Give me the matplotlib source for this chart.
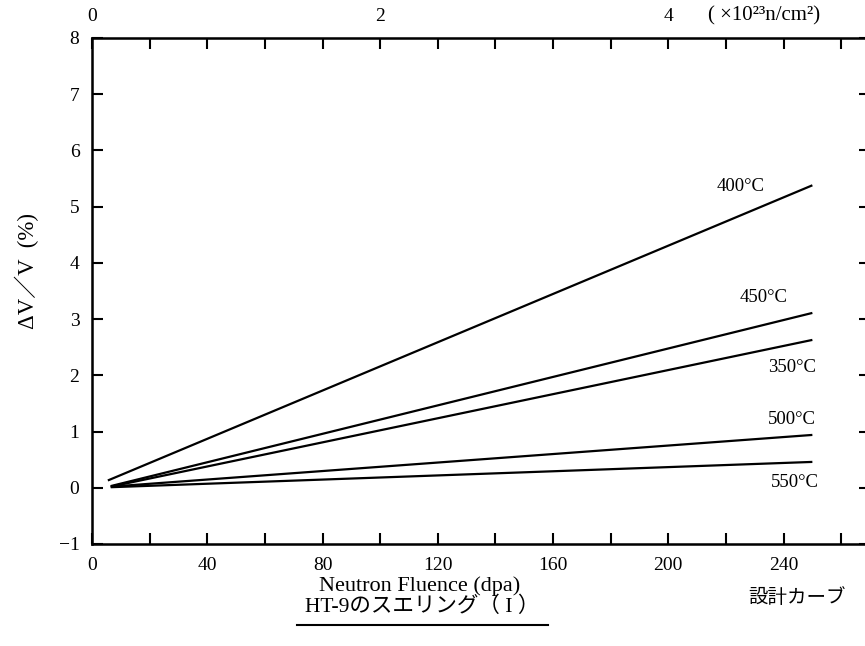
import matplotlib
matplotlib.use("Agg")
import matplotlib.pyplot as plt
from matplotlib.lines import Line2D

plt.rcParams['font.family'] = ['Liberation Serif', 'Noto Sans CJK JP', 'DejaVu Sans']

# swelling design curves
temps = ['400°C', '450°C', '350°C', '500°C', '550°C']
x_start = [5.5, 6.5, 6.5, 6.5, 6.5]
x_end = [250, 250, 250, 250, 250]
y_start = [0.13, 0.03, 0.02, 0.02, 0.01]
y_end = [5.38, 3.11, 2.63, 0.94, 0.46]
# label anchors (dpa, %)
lab_x = [225, 233, 243, 243, 244]
lab_y = [5.36, 3.38, 2.14, 1.21, 0.09]

bottom_ticks = [0, 40, 80, 120, 160, 200, 240]
top_ticks = [0, 100, 200]
top_labels = ['0', '2', '4']

fig = plt.figure(figsize=(8.65, 6.46), dpi=100)
ax = fig.add_axes([92/865, 1-544/646, 778/865, 506/646])

for i in range(len(temps)):
    ax.plot([x_start[i], x_end[i]], [y_start[i], y_end[i]], color='k', lw=1.6,
            solid_capstyle='butt')
    ax.text(lab_x[i], lab_y[i], temps[i], fontsize=13.5, ha='center', va='center')

ax.set_xlim(0, 270)
ax.set_ylim(-1, 8)
ax.set_xticks(bottom_ticks)
ax.set_xticks(range(0, 271, 20), minor=True)
ax.set_yticks(range(-1, 9))
ax.set_yticklabels(['−1'] + [str(v) for v in range(0, 9)])
ax.tick_params(which='both', direction='in', length=8, width=1.5, labelsize=14,
               pad=9, right=True)
for s in ax.spines.values():
    s.set_linewidth(1.8)

ax2 = ax.twiny()
ax2.set_xlim(ax.get_xlim())
ax2.set_xticks(top_ticks)
ax2.set_xticklabels(top_labels)
ax2.set_xticks(range(0, 271, 20), minor=True)
ax2.tick_params(which='both', direction='in', length=8, width=1.5, labelsize=14, pad=9)
fig.text(764/865, 1-16/646, '( ×10²³n/cm²)', fontsize=15, ha='center', va='center')

# axis titles placed by hand to follow the scan
fig.text(420/865, 1-586/646, 'Neutron Fluence (dpa)', fontsize=16, ha='center', va='center')
fig.text(27/865, 1-271/646, 'ΔV／V  (%)', fontsize=16.5, rotation=90, ha='center', va='center')

fig.text(422/865, 1-607/646, 'HT-9のスエリング（ I ）', fontsize=15.5, ha='center', va='center')
fig.add_artist(Line2D([297/865, 548/865], [1-625/646, 1-625/646], color='k', lw=1.5))
fig.text(797/865, 1-598/646, '設計カーブ', fontsize=14, ha='center', va='center')

fig.savefig('out.png', dpi=100)
